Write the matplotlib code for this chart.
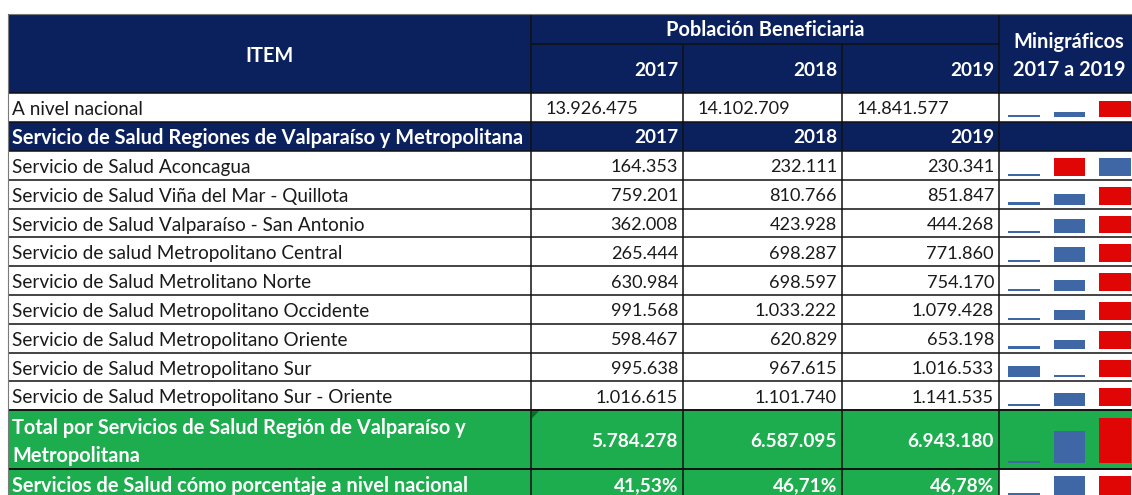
"""
Tabla de Población Beneficiaria 2017-2019 por Servicio de Salud, con minigráficos.
"""

import matplotlib

matplotlib.use("Agg")
import matplotlib.pyplot as plt
from matplotlib.patches import Polygon, Rectangle

W, H = 1132, 495

YEARS = ["2017", "2018", "2019"]

ITEMS = [
    "Servicio de Salud Aconcagua",
    "Servicio de Salud Viña del Mar - Quillota",
    "Servicio de Salud Valparaíso - San Antonio",
    "Servicio de salud Metropolitano Central",
    "Servicio de Salud Metrolitano Norte",
    "Servicio de Salud Metropolitano Occidente",
    "Servicio de Salud Metropolitano Oriente",
    "Servicio de Salud Metropolitano Sur",
    "Servicio de Salud Metropolitano Sur - Oriente",
]
VAL_2017 = [164353, 759201, 362008, 265444, 630984, 991568, 598467, 995638, 1016615]
VAL_2018 = [232111, 810766, 423928, 698287, 698597, 1033222, 620829, 967615, 1101740]
VAL_2019 = [230341, 851847, 444268, 771860, 754170, 1079428, 653198, 1016533, 1141535]

NACIONAL = [13926475, 14102709, 14841577]
TOTAL = [5784278, 6587095, 6943180]
PORCENTAJE = [41.53, 46.71, 46.78]

NAVY = "#0B215E"
GREEN = "#1EAD4E"
BAR_BLUE = "#3F67A6"
BAR_RED = "#E00606"
LINE = "#111111"
TXT = "#1A1A1A"

# bordes de columnas (px)
COL_X = [8, 531, 683, 842, 999, 1145]
HEADER_TOP, HEADER_MID, HEADER_BOT = 14, 44, 93
NAC_BOT = 122
SUB_BOT = 151
ROW_H = 28.8
TOTAL_TOP = SUB_BOT + ROW_H * len(ITEMS)
TOTAL_BOT = 469
PCT_BOT = 499
DY = 2  # el texto queda un poco bajo el centro de la celda

FONT = "Lato"
FS_TXT = 13.7     # texto normal
FS_NUM = 13.1     # números normales
FS_BOLD = 14.4    # texto en negrita
FS_BNUM = 13.7    # números en negrita


def fmt_num(v: int) -> str:
    return f"{v:,}".replace(",", ".")


def fmt_pct(v: float) -> str:
    return f"{v:.2f}%".replace(".", ",")


def cell(ax, x0, x1, y0, y1, color):
    ax.add_patch(Rectangle((x0, y0), x1 - x0, y1 - y0, facecolor=color, edgecolor="none", zorder=1))


def hline(ax, y, x0, x1, color=LINE, lw=1.1):
    ax.plot([x0, x1], [y, y], color=color, lw=lw, zorder=3, solid_capstyle="butt")


def vline(ax, x, y0, y1, color=LINE, lw=1.1):
    ax.plot([x, x], [y0, y1], color=color, lw=lw, zorder=3, solid_capstyle="butt")


def put(ax, x, y, s, ha="left", color=TXT, bold=False, size=FS_TXT):
    ax.text(x, y, s, ha=ha, va="center", color=color, fontsize=size,
            fontweight="bold" if bold else "normal", family=FONT, zorder=4)


def sparkline(fig, values, y0, y1):
    """Minigráfico de columnas: el máximo en rojo, el mínimo casi en cero."""
    x0, x1 = 1001, 1138
    sax = fig.add_axes([x0 / W, 1 - y1 / H, (x1 - x0) / W, (y1 - y0) / H])
    vmin, vmax = min(values), max(values)
    colors = [BAR_RED if v == vmax else BAR_BLUE for v in values]
    sax.bar(range(len(values)), values, width=0.70, color=colors, zorder=2)
    h_px = y1 - y0
    rng = vmax - vmin
    pad = rng * 2.2 / (h_px - 2.2)
    sax.set_ylim(vmin - pad, vmax)
    sax.set_xlim(-0.5, len(values) - 0.5)
    sax.axis("off")
    sax.patch.set_alpha(0)


def main() -> None:
    fig = plt.figure(figsize=(W / 100, H / 100), dpi=100)
    ax = fig.add_axes([0, 0, 1, 1])
    ax.set_xlim(0, W)
    ax.set_ylim(H, 0)
    ax.axis("off")

    right = COL_X[-1]

    # cabecera
    cell(ax, COL_X[0], right, HEADER_TOP, HEADER_BOT, NAVY)
    put(ax, (COL_X[0] + COL_X[1]) / 2, 56, "ITEM", ha="center", color="white", bold=True, size=FS_BOLD)
    put(ax, (COL_X[1] + COL_X[4]) / 2, 30, "Población Beneficiaria", ha="center", color="white",
        bold=True, size=FS_BOLD)
    for i, y in enumerate(YEARS):
        put(ax, COL_X[i + 2] - 5, 70, y, ha="right", color="white", bold=True, size=FS_BNUM)
    put(ax, 1069, 42, "Minigráficos", ha="center", color="white", bold=True, size=FS_BOLD)
    put(ax, 1069, 70, "2017 a 2019", ha="center", color="white", bold=True, size=FS_BOLD)
    hline(ax, HEADER_MID, COL_X[1], COL_X[4])
    vline(ax, COL_X[1], HEADER_TOP, HEADER_BOT)
    vline(ax, COL_X[4], HEADER_TOP, HEADER_BOT)
    vline(ax, COL_X[2], HEADER_MID, HEADER_BOT)
    vline(ax, COL_X[3], HEADER_MID, HEADER_BOT)
    hline(ax, HEADER_TOP, COL_X[0], right, color="#7a7a7a", lw=0.8)

    # a nivel nacional
    yc = (HEADER_BOT + NAC_BOT) / 2 + DY
    put(ax, 12, yc, "A nivel nacional")
    for i, v in enumerate(NACIONAL):
        put(ax, COL_X[i + 1] + 15, yc, fmt_num(v), size=FS_NUM)
    sparkline(fig, NACIONAL, HEADER_BOT + 8, NAC_BOT - 5)

    # sub cabecera
    cell(ax, COL_X[0], right, NAC_BOT, SUB_BOT, NAVY)
    yc = (NAC_BOT + SUB_BOT) / 2 + 1
    put(ax, 12, yc, "Servicio de Salud Regiones de Valparaíso y Metropolitana", color="white",
        bold=True, size=FS_BOLD)
    for i, y in enumerate(YEARS):
        put(ax, COL_X[i + 2] - 5, yc, y, ha="right", color="white", bold=True, size=FS_BNUM)

    # filas de servicios
    for r, name in enumerate(ITEMS):
        y0 = SUB_BOT + ROW_H * r
        y1 = y0 + ROW_H
        yc = (y0 + y1) / 2 + DY
        put(ax, 12, yc, name)
        vals = [VAL_2017[r], VAL_2018[r], VAL_2019[r]]
        for i, v in enumerate(vals):
            put(ax, COL_X[i + 2] - 5, yc, fmt_num(v), ha="right", size=FS_NUM)
        sparkline(fig, vals, y0 + 7, y1 - 4)
        if r > 0:
            hline(ax, y0, COL_X[0], right)

    # total
    cell(ax, COL_X[0], right, TOTAL_TOP, TOTAL_BOT, GREEN)
    put(ax, 12, 428, "Total por Servicios de Salud Región de Valparaíso y", color="white",
        bold=True, size=FS_BOLD)
    put(ax, 12, 456, "Metropolitana", color="white", bold=True, size=FS_BOLD)
    yc = (TOTAL_TOP + TOTAL_BOT) / 2 + 2
    for i, v in enumerate(TOTAL):
        put(ax, COL_X[i + 2] - 5, yc, fmt_num(v), ha="right", color="white", bold=True, size=FS_BNUM)
    sparkline(fig, TOTAL, TOTAL_TOP + 8, TOTAL_BOT - 6)
    ax.add_patch(Polygon([[COL_X[1] + 1, TOTAL_TOP + 1], [COL_X[1] + 8, TOTAL_TOP + 1],
                          [COL_X[1] + 1, TOTAL_TOP + 8]], closed=True,
                         facecolor="#0B6B2A", edgecolor="none", zorder=2))

    # porcentaje
    cell(ax, COL_X[0], COL_X[4], TOTAL_BOT, PCT_BOT, GREEN)
    yc = TOTAL_BOT + 17
    put(ax, 12, yc, "Servicios de Salud cómo porcentaje a nivel nacional", color="white",
        bold=True, size=FS_BOLD)
    for i, v in enumerate(PORCENTAJE):
        put(ax, COL_X[i + 2] - 5, yc, fmt_pct(v), ha="right", color="white", bold=True, size=FS_BNUM)
    sparkline(fig, PORCENTAJE, TOTAL_BOT + 7, PCT_BOT - 4)

    # líneas de la grilla
    for y in [HEADER_BOT, NAC_BOT, SUB_BOT, TOTAL_TOP, TOTAL_BOT]:
        hline(ax, y, COL_X[0], right, lw=1.4 if y >= TOTAL_TOP else 1.1)
    for x in COL_X[1:5]:
        vline(ax, x, HEADER_BOT, PCT_BOT)
    vline(ax, COL_X[0], HEADER_TOP, PCT_BOT, color="#7a7a7a", lw=0.8)

    fig.savefig("out.png", dpi=100)
    plt.close(fig)


if __name__ == "__main__":
    main()
